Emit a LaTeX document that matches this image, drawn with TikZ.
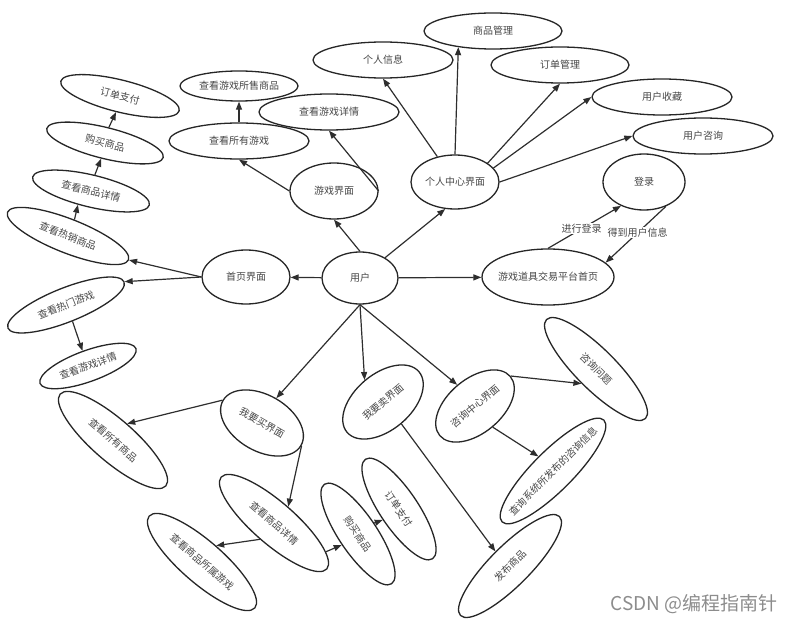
\documentclass[tikz,border=0pt]{standalone}
\usepackage{fontspec}
\setmainfont{Noto Sans CJK SC}
\usetikzlibrary{shapes.geometric,arrows.meta}
\newcommand{\elln}[7]{%
  \node[ell,minimum width={2*#4},minimum height={2*#5},rotate=#6] (#1) at (#2,#3) {};
  \node[txt,rotate=#6] (#1-t) at (#1.center) {#7};}
\begin{document}
\begin{tikzpicture}[x=1pt,y=-1pt,
  ell/.style={ellipse,draw=black!85,line width=1.3pt,inner sep=0pt,fill=white},
  txt/.style={font=\fontsize{10}{12}\selectfont,text=black!72,inner sep=0pt},
  arr/.style={draw=black!82,line width=1.2pt,-{Triangle[length=8pt,width=6pt]}},
  lbl/.style={font=\fontsize{10}{12}\selectfont,text=black!72,fill=white,inner sep=1pt}]
\useasboundingbox (0,0) rectangle (795,623);
% centre
\elln{yh}{360}{278}{38}{26}{0}{用户}
\elln{sy}{246}{277}{44}{27}{0}{首页界面}
\elln{pt}{548}{277}{66}{28}{0}{游戏道具交易平台首页}
\elln{dl}{644}{182}{41}{28}{0}{登录}
\elln{gr}{455}{182}{44}{27}{0}{个人中心界面}
\elln{yhzx}{703}{136}{70}{18}{0}{用户咨询}
\elln{yhsc}{662}{97}{70}{18}{0}{用户收藏}
\elln{ddgl}{560}{65}{69}{18}{0}{订单管理}
\elln{spgl}{493}{31}{69}{18}{0}{商品管理}
\elln{grxx}{383}{60}{70}{18}{0}{个人信息}
\elln{ckyxxq}{329}{112}{70}{18}{0}{查看游戏详情}
\elln{cksssp}{239}{86}{59}{15}{0}{查看游戏所售商品}
\elln{cksyyx}{239}{141}{70}{18}{0}{查看所有游戏}
\elln{yxjm}{334}{191}{44}{28}{0}{游戏界面}
% left
\elln{ddzfL}{120}{96}{61}{16}{-14}{订单支付}
\elln{gmspL}{105}{143}{60}{15.5}{-14}{购买商品}
\elln{ckspxqL}{91}{191}{60}{16}{-13.5}{查看商品详情}
\elln{rxsp}{68}{236}{65}{17}{-21.5}{查看热销商品}
\elln{rmyx}{66}{305}{62.5}{17}{21.7}{查看热门游戏}
\elln{ckyxL}{88}{366}{51}{15.5}{20}{查看游戏详情}
% bottom
\elln{wymj}{262}{423}{45}{28}{-30}{我要买界面}
\elln{cksysp}{113}{440}{70}{21}{-41}{查看所有商品}
\elln{ckspxq}{274}{523}{70}{21}{-41}{查看商品详情}
\elln{ckspyx}{202}{562}{70}{21}{-41}{查看商品所属游戏}
\elln{gmsp}{358}{534}{60}{19}{-56}{购买商品}
\elln{ddzf}{399}{509}{60}{19}{-56}{订单支付}
\elln{wmj}{383}{402}{47}{28}{40}{我要卖界面}
\elln{zxzx}{475}{406}{46}{27}{40}{咨询中心界面}
\elln{zxwt}{596}{369}{70}{20}{-45}{咨询问题}
\elln{cxxx}{553}{471}{72}{20}{45}{查询系统所发布的咨询信息}
\elln{fbsp}{510}{566}{70}{20}{45}{发布商品}
% connectors
\draw[arr] (yh) -- (sy);
\draw[arr] (yh) -- (pt);
\draw[arr] (yh) -- (gr.250);
\draw[arr] (yh.north) -- (yxjm.south);
\draw[arr] (yxjm.west) -- (cksyyx.south);
\draw[arr] (yxjm.east) -- (ckyxxq.south);
\draw[arr] (cksyyx.north) -- (cksssp.south);
\draw[arr] (gr) -- (grxx.south);
\draw[arr] (gr.north) -- (spgl.205);
\draw[arr] (gr.30) -- (ddgl.south);
\draw[arr] (gr.20) -- (yhsc.west);
\draw[arr] (gr.east) -- (yhzx.west);
\draw[arr] (pt.north) -- node[lbl,pos=.46] (l1) {进行登录} (dl.226);
\draw[arr] (dl.-48) -- node[lbl,pos=.47] (l2) {得到用户信息} (pt.14);
\draw[arr] (sy.west) -- (rxsp.east);
\draw[arr] (sy.west) -- (rmyx.east);
\draw[arr] (rxsp.north) -- (ckspxqL.240);
\draw[arr] (ckspxqL.north) -- (gmspL.south);
\draw[arr] (gmspL.north) -- (ddzfL.south);
\draw[arr] (rmyx.south) -- (ckyxL.north);
\draw[arr] (yh.south) -- (wymj.north);
\draw[arr] (yh.south) -- (wmj.north);
\draw[arr] (yh.south) -- (zxzx.north);
\draw[arr] (wymj.west) -- (cksysp.north);
\draw[arr] (wymj.east) -- (ckspxq.north);
\draw[arr] (ckspxq.south) -- (ckspyx.north);
\draw[arr] (ckspxq.12) -- (gmsp.south);
\draw[arr] (gmsp.north) -- (ddzf.south);
\draw[arr] (wmj.south) -- (fbsp.north);
\draw[arr] (zxzx.east) -- (zxwt.south);
\draw[arr] (zxzx.south) -- (cxxx.north);
% watermark
\node[font=\fontsize{19}{22}\selectfont,text=black!45,inner sep=0pt] (wm) at (694,604) {CSDN @编程指南针};
\end{tikzpicture}
\end{document}
